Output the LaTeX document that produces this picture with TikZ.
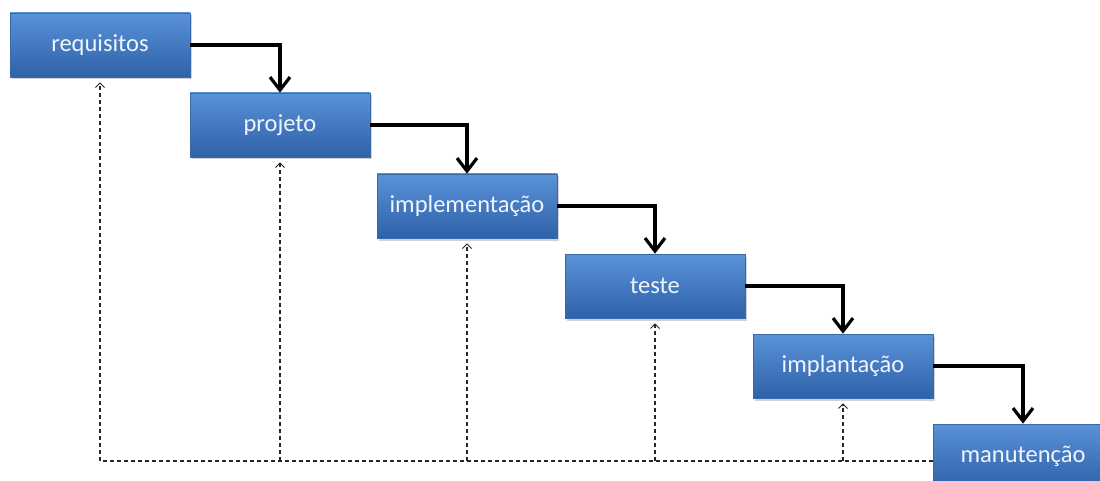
\documentclass[tikz,border=0pt]{standalone}
\usepackage{fontspec}
\setmainfont{Carlito}
\usetikzlibrary{arrows.meta,shadows}
\definecolor{boxtop}{RGB}{90,145,215}
\definecolor{boxbot}{RGB}{46,98,170}
\definecolor{boxedge}{RGB}{58,104,168}
\definecolor{boxtext}{RGB}{240,245,252}
\tikzset{
  stage/.style={rectangle, minimum width=180pt, minimum height=64pt, inner sep=0pt,
    top color=boxtop, bottom color=boxbot, draw=boxedge, line width=0.6pt,
    text=boxtext, font=\fontsize{24.5}{28}\selectfont,
    drop shadow={opacity=0.35, shadow xshift=1.5pt, shadow yshift=-2.5pt}},
  flow/.style={line width=3.2pt, -{Straight Barb[length=13pt,width=20pt,line width=3.2pt]}},
  back/.style={line width=1.1pt, dash pattern=on 4pt off 3pt, black!85,
    -{Straight Barb[length=4.5pt,width=9pt,line width=1pt]}, shorten >=5pt},
}
\begin{document}
\begin{tikzpicture}[x=1pt,y=-1pt]
\useasboundingbox (0,0) rectangle (1100,481);
\fill[white] (0,0) rectangle (1100,481);

% return path running under every phase
\coordinate (loop) at (100,461);

% phases
\node[stage] (req)  at (100,45)  {requisitos};
\node[stage] (proj) at (280,125) {projeto};
\node[stage] (impl) at (467,206) {implementação};
\node[stage] (test) at (655,286) {teste};
\node[stage] (depl) at (843,366) {implantação};
\node[stage] (main) at (1023,456) {manutenção};

% forward cascade
\draw[flow] (req.east)  -| (proj.north);
\draw[flow] (proj.east) -| (impl.north);
\draw[flow] (impl.east) -| (test.north);
\draw[flow] (test.east) -| (depl.north);
\draw[flow] (depl.east) -| (main.north);

% feedback to earlier phases
\draw[back] (main.west |- loop) -- (loop) -- (req.south);
\draw[back] (proj.south |- loop) -- (proj.south);
\draw[back] (impl.south |- loop) -- (impl.south);
\draw[back] (test.south |- loop) -- (test.south);
\draw[back] (depl.south |- loop) -- (depl.south);
\end{tikzpicture}
\end{document}
